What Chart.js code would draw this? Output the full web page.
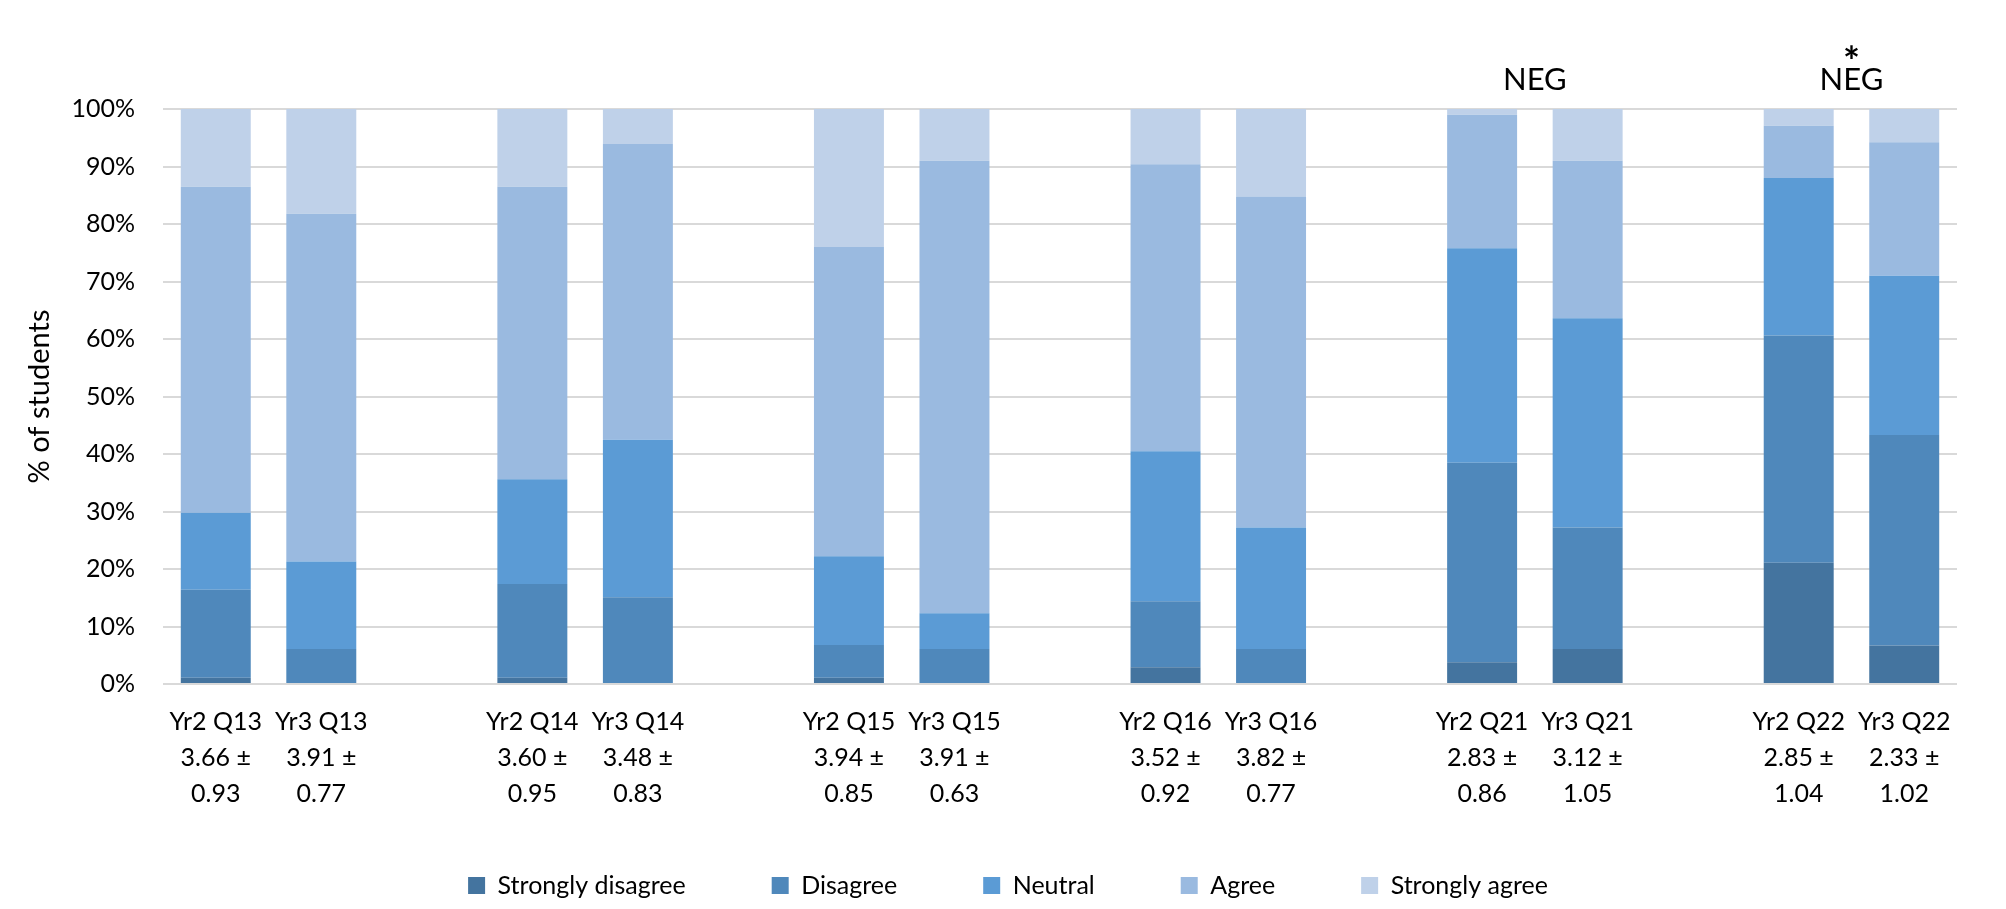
<!DOCTYPE html>
<html>
<head>
<meta charset="utf-8">
<script src="https://cdn.jsdelivr.net/npm/chart.js@4/dist/chart.umd.min.js"></script>
<style>
  html, body { margin: 0; padding: 0; background: #fff; }
  #wrap { width: 2006px; height: 909px; position: relative; }
</style>
</head>
<body>
<div id="wrap"><canvas id="likert"></canvas></div>
<script>
// bar names, means and SDs (empty slots = gap between question pairs)
const barNames = ['Yr2 Q13', 'Yr3 Q13', '', 'Yr2 Q14', 'Yr3 Q14', '', 'Yr2 Q15', 'Yr3 Q15', '',
                  'Yr2 Q16', 'Yr3 Q16', '', 'Yr2 Q21', 'Yr3 Q21', '', 'Yr2 Q22', 'Yr3 Q22'];
const means = ['3.66 ±', '3.91 ±', '', '3.60 ±', '3.48 ±', '', '3.94 ±', '3.91 ±', '',
               '3.52 ±', '3.82 ±', '', '2.83 ±', '3.12 ±', '', '2.85 ±', '2.33 ±'];
const sds = ['0.93', '0.77', '', '0.95', '0.83', '', '0.85', '0.63', '',
             '0.92', '0.77', '', '0.86', '1.05', '', '1.04', '1.02'];

// % of students per response
const stronglyDisagree = [1.1, 0, null, 1.1, 0, null, 1.1, 0, null, 2.9, 0, null, 3.8, 6.1, null, 21.1, 6.7];
const disagree = [15.3, 6.1, null, 16.3, 15.1, null, 5.7, 6.1, null, 11.5, 6.1, null, 34.7, 21.1, null, 39.5, 36.6];
const neutral = [13.4, 15.2, null, 18.2, 27.4, null, 15.4, 6.2, null, 26.1, 21.1, null, 37.3, 36.4, null, 27.4, 27.7];
const agree = [56.7, 60.5, null, 50.9, 51.4, null, 53.8, 78.7, null, 49.9, 57.6, null, 23.2, 27.4, null, 9.1, 23.2];
const stronglyAgree = [13.5, 18.2, null, 13.5, 6.1, null, 24.0, 9.0, null, 9.6, 15.2, null, 1.0, 9.0, null, 2.9, 5.8];

const yTicks = [0, 10, 20, 30, 40, 50, 60, 70, 80, 90, 100];

// notes above the Q21 and Q22 pairs
const notes = [
  { pair: [12, 13], text: 'NEG', star: false },
  { pair: [15, 16], text: 'NEG', star: true }
];

const labels = barNames.map((n, i) => n ? [n, means[i], sds[i]] : '');

const FONT = 'Lato';

// legend items sit ~88px apart but the legend box must stay short,
// so pad the gap with trailing spaces instead of labels.padding
const measure = document.createElement('canvas').getContext('2d');
measure.font = `25px ${FONT}`;
const spacePad = ' '.repeat(Math.round(34 / measure.measureText(' ').width));

const notePlugin = {
  id: 'notes',
  afterDraw(chart) {
    const { ctx, chartArea, scales: { x } } = chart;
    ctx.save();
    ctx.fillStyle = '#000';
    ctx.textAlign = 'center';
    notes.forEach(n => {
      const cx = (x.getPixelForValue(n.pair[0]) + x.getPixelForValue(n.pair[1])) / 2;
      ctx.font = `31px ${FONT}`;
      ctx.textBaseline = 'middle';
      ctx.fillText(n.text, cx, chartArea.top - 29);
      if (n.star) {
        ctx.font = `bold 40px ${FONT}`;
        ctx.textBaseline = 'alphabetic';
        ctx.fillText('*', cx, chartArea.top - 33);
      }
    });
    ctx.restore();
  }
};

const ds = (label, data, color) => ({
  label, data, backgroundColor: color, borderWidth: 0,
  barPercentage: 0.663, categoryPercentage: 1.0
});

new Chart(document.getElementById('likert'), {
  type: 'bar',
  data: {
    labels,
    datasets: [
      ds('Strongly disagree', stronglyDisagree, '#44749F'),
      ds('Disagree', disagree, '#4F88BB'),
      ds('Neutral', neutral, '#5B9BD5'),
      ds('Agree', agree, '#9ABAE0'),
      ds('Strongly agree', stronglyAgree, '#BFD1E9')
    ]
  },
  options: {
    responsive: true,
    maintainAspectRatio: false,
    animation: false,
    layout: { padding: { top: 109, left: 10, right: 0, bottom: 1 } },
    plugins: {
      legend: {
        position: 'bottom',
        labels: {
          boxWidth: 17, boxHeight: 17, padding: 54,
          color: '#000',
          font: { family: FONT, size: 25 },
          generateLabels(chart) {
            const items = Chart.defaults.plugins.legend.labels.generateLabels(chart);
            items.forEach((it, i) => { if (i < items.length - 1) it.text += spacePad; });
            return items;
          }
        }
      },
      tooltip: { enabled: false }
    },
    scales: {
      x: {
        stacked: true,
        grid: { display: false, drawTicks: false },
        border: { display: false },
        ticks: {
          color: '#000', padding: 20, maxRotation: 0, autoSkip: false,
          font: { family: FONT, size: 25, lineHeight: 1.44 }
        },
        afterFit(scale) { scale.height = 135; }
      },
      y: {
        stacked: true,
        min: 0, max: 100,
        afterBuildTicks(scale) { scale.ticks = yTicks.map(v => ({ value: v })); },
        grid: { color: '#D9D9D9', lineWidth: 2, drawTicks: false },
        border: { display: false },
        ticks: {
          color: '#000', padding: 28,
          font: { family: FONT, size: 25 },
          callback: v => v + '%'
        },
        title: {
          display: true, text: '% of students', color: '#000',
          font: { family: FONT, size: 29 },
          padding: { top: 12, bottom: 0 }
        },
        afterFit(scale) { scale.width = 153; }
      },
      // empty right margin so the plot ends where the reference does
      yRight: {
        position: 'right',
        grid: { display: false, drawTicks: false },
        border: { display: false },
        ticks: { display: false },
        afterFit(scale) { scale.width = 49; }
      }
    }
  },
  plugins: [notePlugin]
});
</script>
</body>
</html>
